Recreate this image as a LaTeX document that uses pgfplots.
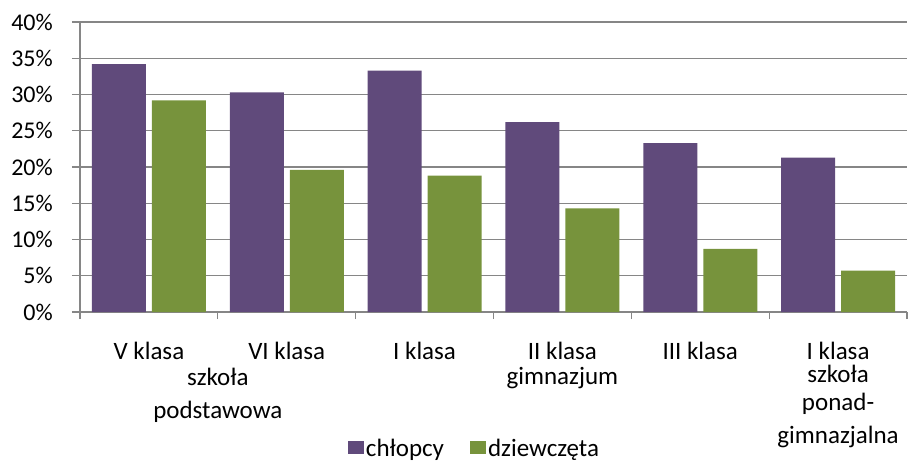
\documentclass[border=0pt]{standalone}
\usepackage{pgfplots}
\pgfplotsset{compat=1.18}
\usepackage{fontspec}
\setmainfont{Carlito}
\definecolor{boys}{HTML}{604A7B}
\definecolor{girls}{HTML}{77933C}
\definecolor{gridc}{HTML}{868686}
\begin{document}
\begin{tikzpicture}
\begin{axis}[
    scale only axis,
    width=827pt, height=290pt,
    ybar=6pt, bar width=54pt,
    xmin=-0.5, xmax=5.5,
    ymin=0, ymax=40,
    axis x line*=bottom, axis y line*=left,
    axis line style={gridc, line width=1.2pt},
    ymajorgrids, grid style={gridc, line width=1.2pt},
    ytick={0,5,...,40},
    yticklabels={0\%,5\%,10\%,15\%,20\%,25\%,30\%,35\%,40\%},
    yticklabel style={font=\fontsize{24}{26}\selectfont, inner sep=0pt, xshift=-19pt},
    xtick={0,...,5},
    xticklabels={V klasa, VI klasa, I klasa, II klasa\\gimnazjum, III klasa,
      I klasa\\[-2pt]szkoła\\[3pt]ponad-\\[8pt]gimnazjalna},
    minor xtick={-0.5,0.5,...,5.5},
    extra x ticks={0.5},
    extra x tick labels={\vphantom{Vkl}\\[1pt]szkoła\\[8pt]podstawowa},
    extra x tick style={tick style={draw=none}},
    x tick style={draw=none},
    minor x tick style={draw=gridc, line width=1.2pt},
    minor tick length=7pt,
    ytick style={gridc, line width=1.2pt},
    major tick length=8pt,
    tick align=outside,
    xticklabel style={font=\fontsize{25}{25}\selectfont, align=center, anchor=north, inner sep=0pt, yshift=-22pt},
    legend style={draw=none, at={(0.477,-0.425)}, anchor=north,
      font=\fontsize{25}{26}\selectfont, legend columns=2,
      /tikz/every even column/.append style={column sep=24pt}},
    legend image code/.code={\fill[#1] (0pt,-5pt) rectangle (16pt,8pt);},
]
\addplot[fill=boys, draw=none] coordinates {(0,34.2) (1,30.3) (2,33.3) (3,26.2) (4,23.3) (5,21.3)};
\addplot[fill=girls, draw=none] coordinates {(0,29.2) (1,19.6) (2,18.8) (3,14.3) (4,8.7) (5,5.7)};
\legend{chłopcy, dziewczęta}
\end{axis}
\path[use as bounding box] ([xshift=-80pt,yshift=-144pt]current axis.south west) rectangle ([xshift=1pt,yshift=22pt]current axis.north east);
\end{tikzpicture}
\end{document}
